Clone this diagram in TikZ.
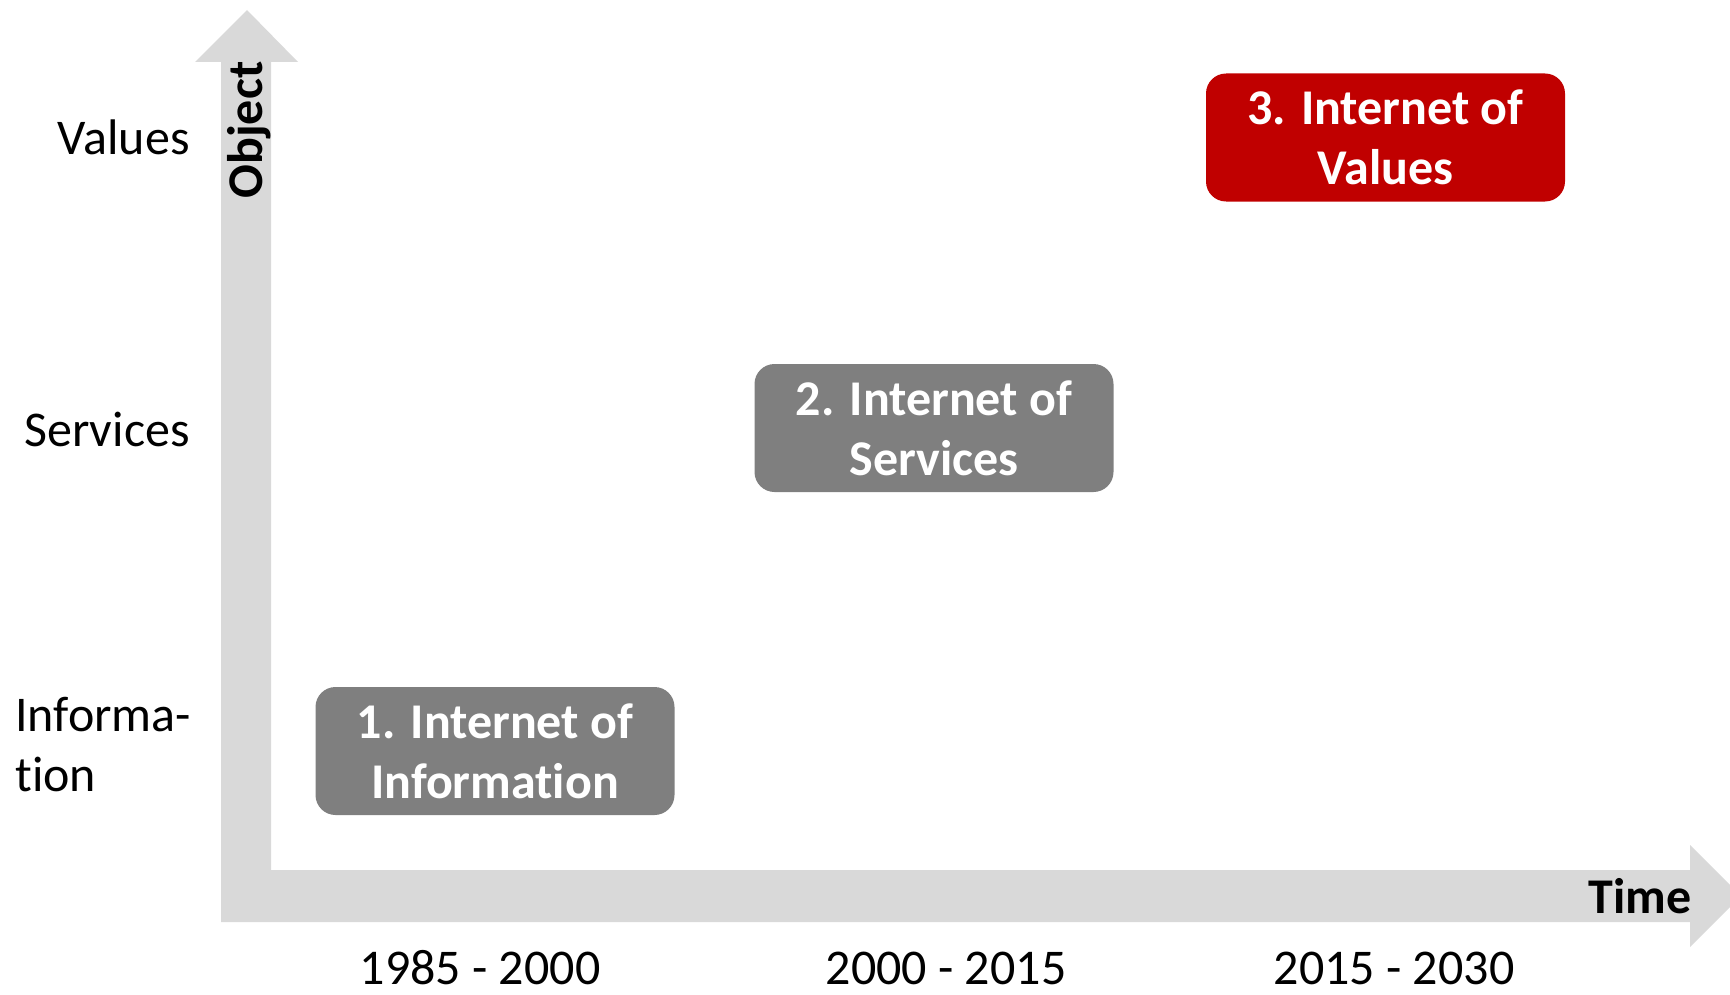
\documentclass[tikz,border=0pt]{standalone}
\usepackage{fontspec}
\setmainfont[RawFeature={-liga;-dlig}]{Carlito}
\usetikzlibrary{positioning}

\definecolor{axisgray}{RGB}{217,217,217}
\definecolor{eragray}{RGB}{127,127,127}
\definecolor{erared}{RGB}{192,0,0}

\begin{document}
\begin{tikzpicture}[x=0.5pt,y=-0.5pt,font=\fontsize{25}{30}\selectfont]
   \tikzstyle{every node}=[inner sep=0pt]
   \tikzstyle{era}=[rounded corners=10pt,minimum width=179.5pt,minimum height=64pt,
                    align=center,text=white,font=\fontsize{25}{30}\selectfont\bfseries]
   \tikzstyle{axislabel}=[font=\fontsize{25}{30}\selectfont\bfseries]

   \useasboundingbox (0,0) rectangle (1730,995);

   % both axes as one shape
   \fill[axisgray] (221,922) -- (221,62) -- (195,62) -- (247,10) -- (298,62)
        -- (271,62) -- (271,870) -- (1690,870) -- (1690,845) -- (1730,885)
        -- (1730,907) -- (1690,947) -- (1690,922) -- cycle;

   \node[axislabel,rotate=90,anchor=base] (O) at (262,130) {Object};
   \node[axislabel,anchor=base east]      (T) at (1692,913) {Time};

   \node[anchor=base east] (V) at (190,155) {Values};
   \node[anchor=base east] (S) at (190,446) {Services};
   \node[anchor=base west,align=left] (I) at (15,791) {Informa-\\tion};

   \node[era,fill=eragray] (A) at (495,751)    {1. Internet of\\Information};
   \node[era,fill=eragray] (B) at (934,428)    {2. Internet of\\Services};
   \node[era,fill=erared]  (C) at (1385.5,137.5) {3. Internet of\\Values};

   \node[anchor=base] (Y1) at (480,984)  {1985 - 2000};
   \node[anchor=base] (Y2) at (946,984)  {2000 - 2015};
   \node[anchor=base] (Y3) at (1394,984) {2015 - 2030};
\end{tikzpicture}
\end{document}
